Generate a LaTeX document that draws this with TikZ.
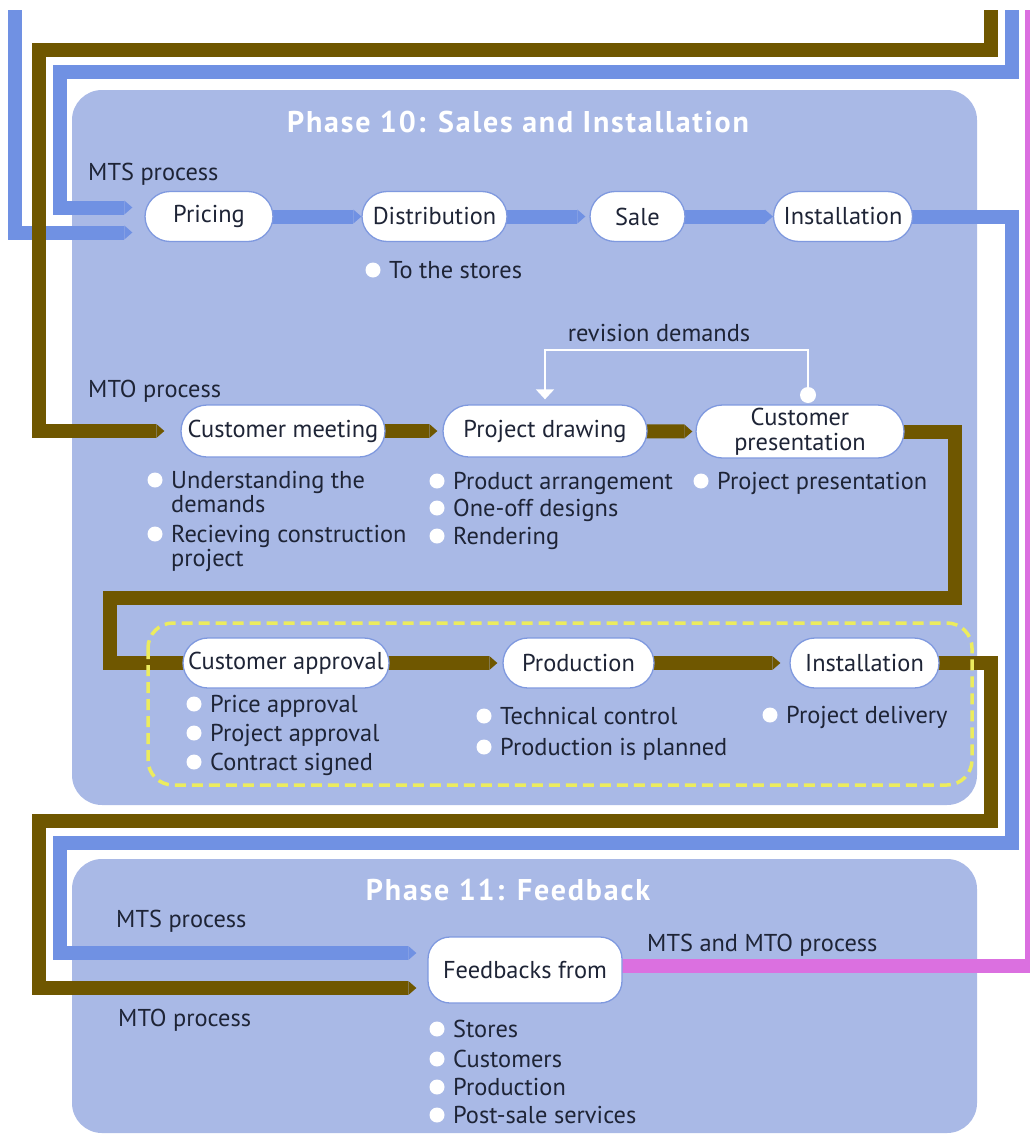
\documentclass[tikz,border=0pt]{standalone}
\usepackage{fontspec}
\setmainfont{PT Sans}
\newfontfamily\titlefont{PT Sans}[LetterSpace=6]
\usetikzlibrary{arrows.meta,calc,shapes.misc}
\pgfdeclarelayer{panels}
\pgfdeclarelayer{flows}
\pgfsetlayers{panels,flows,main}

\definecolor{panelc}{HTML}{A9B9E6}
\definecolor{bluec}{HTML}{7091E3}
\definecolor{brownc}{HTML}{6F5700}
\definecolor{pinkc}{HTML}{DB70E0}
\definecolor{edgec}{HTML}{7F99DF}
\definecolor{ink}{HTML}{1E2436}
\definecolor{yellowc}{HTML}{ECEC5E}

\newcommand\bodyfont{\fontsize{24.4}{24}\selectfont}
% one-line bullet item: the point is the baseline at the start of the text
\newcommand\bitem[4]{%
  \node[itemtxt] (#1) at (#2,#3) {#4};
  \fill[white] ($(#1.base west)+(-16,-8)$) circle (7.5pt);}
% two-line bullet item: the point is the baseline of its second line
\newcommand\bitemtwo[4]{%
  \node[itemtxt] (#1) at (#2,#3) {#4};
  \fill[white] ($(#1.base west)+(-16,-32)$) circle (7.5pt);}

\begin{document}
\begin{tikzpicture}[x=1pt,y=-1pt,
  panel/.style={fill=panelc, rounded corners=30pt},
  stage/.style={rounded rectangle, draw=edgec, line width=1.3pt, fill=white,
    minimum height=50pt, inner xsep=3pt, inner ysep=1pt, text=ink, font=\bodyfont},
  fbbox/.style={rectangle, rounded corners=22pt, draw=edgec, line width=1.3pt,
    fill=white, minimum width=194pt, minimum height=66pt, text=ink, font=\bodyfont},
  flowtip/.style={-{Triangle[length=8pt,width=14pt,line width=0pt]}},
  bline/.style={draw=bluec, line width=14pt},
  oline/.style={draw=brownc, line width=14pt},
  pline/.style={draw=pinkc, line width=14pt},
  bflow/.style={bline, flowtip},
  oflow/.style={oline, flowtip},
  revline/.style={draw=white, line width=2pt, -{Triangle[length=10pt,width=18pt]}},
  approvalbox/.style={draw=yellowc, line width=3.5pt, dash pattern=on 11pt off 6pt,
    rounded corners=25pt},
  lbl/.style={anchor=base west, inner sep=0pt, text=ink, font=\bodyfont},
  itemtxt/.style={anchor=base west, inner sep=0pt, align=left, text=ink, font=\bodyfont},
  phasetitle/.style={text=white, font=\titlefont\bfseries\fontsize{30}{30}\selectfont}]

\useasboundingbox (0,0) rectangle (1029,1135);

% phase panels
\begin{pgfonlayer}{panels}
  \fill[panel] (72,90) rectangle (977,805);
  \fill[panel] (72,859) rectangle (977,1133);
\end{pgfonlayer}

\node[phasetitle] (t10) at (518,122) {Phase 10: Sales and Installation};
\node[phasetitle] (t11) at (508,890) {Phase 11: Feedback};

% MTS chain
\node[stage, minimum width=134pt] (pricing) at (209,216.5) {Pricing};
\node[stage, minimum width=151pt] (distribution) at (434.5,216.5) {Distribution};
\node[stage, minimum width=101pt] (sale) at (637.5,216.5) {Sale};
\node[stage, minimum width=145pt] (inst1) at (843,216.5) {Installation};

% MTO chain
\node[stage, minimum width=210pt, minimum height=52pt] (custmeet) at (283,431) {Customer meeting};
\node[stage, minimum width=210pt, minimum height=52pt] (projdraw) at (545,431) {Project drawing};
\node[stage, minimum width=214pt, minimum height=53pt, align=center,
  font=\fontsize{24.4}{25}\selectfont] (custpres) at (800,431.5) {Customer\\presentation};
\node[stage, minimum width=212pt] (custappr) at (286,663) {Customer approval};
\node[stage, minimum width=157pt] (production) at (578.5,663) {Production};
\node[stage, minimum width=155pt] (inst2) at (864.5,663) {Installation};

% feedback
\node[fbbox] (feedback) at (525,970) {Feedbacks from};

% labels
\node[lbl] (mts1) at (88,180) {MTS process};
\node[lbl] (mto1) at (88,397) {MTO process};
\node[lbl] (mts2) at (116,927) {MTS process};
\node[lbl] (mto2) at (118,1026) {MTO process};
\node[lbl] (both) at (647,951) {MTS and MTO process};

% bullet lists
\bitem{ds1}{389}{278}{To the stores}
\bitemtwo{cm1}{171}{512}{Understanding the\\demands}
\bitemtwo{cm2}{171}{566}{Recieving construction\\project}
\bitem{pd1}{453}{489}{Product arrangement}
\bitem{pd2}{453}{516}{One-off designs}
\bitem{pd3}{453}{544}{Rendering}
\bitem{cp1}{717}{489}{Project presentation}
\bitem{ca1}{210}{712}{Price approval}
\bitem{ca2}{210}{741}{Project approval}
\bitem{ca3}{210}{770}{Contract signed}
\bitem{pr1}{500}{724}{Technical control}
\bitem{pr2}{500}{755}{Production is planned}
\bitem{in1}{786}{723}{Project delivery}
\bitem{fb1}{453}{1037}{Stores}
\bitem{fb2}{453}{1067}{Customers}
\bitem{fb3}{453}{1095}{Production}
\bitem{fb4}{453}{1123}{Post-sale services}

% revision loop
\coordinate (revdot) at (808,395);
\draw[revline, shorten >=5pt] (revdot) -- (808,350) -| (projdraw.north);
\fill[white] (revdot) circle (8pt);
\node[anchor=base, inner sep=0pt, text=ink, font=\bodyfont] (revlbl) at (659,341) {revision demands};

% approval group
\draw[approvalbox] (148,623) rectangle (972,785);

% process streams
\begin{pgfonlayer}{flows}
  \draw[bflow, shorten >=12pt] (15,10) |- ($(pricing.west)+(0,16)$);
  \draw[bflow, shorten >=12pt] (1012,10) |- (60,72) |- ($(pricing.west)+(0,-9)$);
  \draw[oflow, shorten >=16pt] (991,10) |- (39,50) |- (custmeet.west);

  \draw[bflow] (pricing.center) -- (distribution.west);
  \draw[bflow, shorten >=4pt] (distribution.center) -- (sale.west);
  \draw[bflow] (sale.center) -- (inst1.west);

  \draw[oflow, shorten >=5pt] (custmeet.center) -- (projdraw.west);
  \draw[oflow, shorten >=3pt] (projdraw.center) -- (custpres.west);
  \draw[oline] (custpres.center) -| (955,598) -| (110,663) -- (custappr.center);
  \draw[oflow, shorten >=5pt] (custappr.center) -- (production.west);
  \draw[oflow, shorten >=9pt] (production.center) -- (inst2.west);

  \draw[bflow, shorten >=11pt] (inst1.center) -| (1012,843) -| (60,953) -- ($(feedback.west)+(0,-17)$);
  \draw[oflow, shorten >=11pt] (inst2.center) -| (991,821) -| (39,988) -- ($(feedback.west)+(0,18)$);
  \draw[pline] ($(feedback.center)+(0,-4)$) -| (1032,10);
\end{pgfonlayer}
\end{tikzpicture}
\end{document}
